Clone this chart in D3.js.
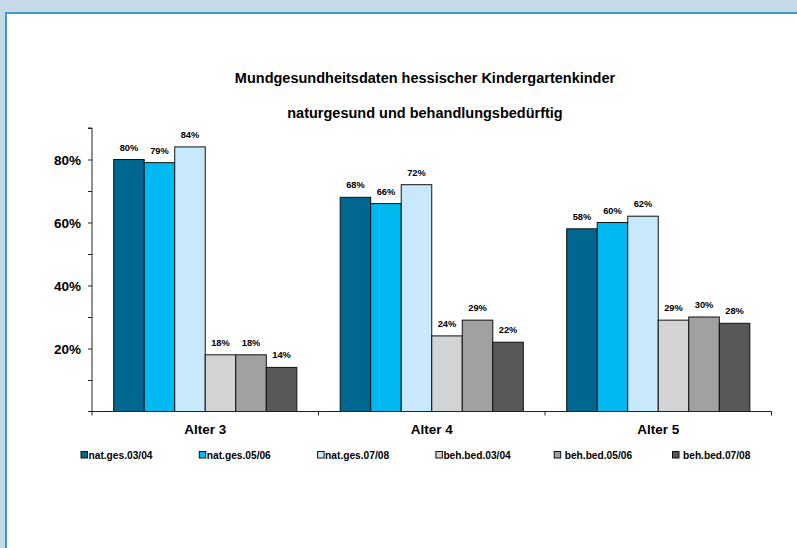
<!DOCTYPE html>
<html>
<head>
<meta charset="utf-8">
<script src="https://cdn.jsdelivr.net/npm/d3@7"></script>
<style>
  html, body { margin: 0; padding: 0; background: #c6d9e8; }
  svg { display: block; }
  text { font-family: "Liberation Sans", Arial, sans-serif; font-weight: bold; fill: #000; }
</style>
</head>
<body>
<svg id="chart" width="797" height="548"></svg>
<script>
// Age groups on the x axis
const categories = ["Alter 3", "Alter 4", "Alter 5"];

// Series: share of naturally healthy teeth (nat.ges) and share needing treatment (beh.bed) per school year
const seriesNames = ["nat.ges.03/04", "nat.ges.05/06", "nat.ges.07/08", "beh.bed.03/04", "beh.bed.05/06", "beh.bed.07/08"];
const natges0304 = [80, 68, 58];
const natges0506 = [79, 66, 60];
const natges0708 = [84, 72, 62];
const behbed0304 = [18, 24, 29];
const behbed0506 = [18, 29, 30];
const behbed0708 = [14, 22, 28];
const seriesColors = ["#006890", "#00b9f1", "#c8e9f9", "#d2d3d5", "#a1a1a3", "#58585a"];

// Y axis ticks (percent)
const yTicks = [10, 20, 30, 40, 50, 60, 70, 80, 90];
const yLabelTicks = [20, 40, 60, 80];

const seriesValues = [natges0304, natges0506, natges0708, behbed0304, behbed0506, behbed0708];
const rows = categories.map((c, i) => ({
  category: c,
  values: seriesNames.map((s, j) => ({ series: s, value: seriesValues[j][i], color: seriesColors[j] }))
}));

const svg = d3.select("#chart");

// White chart panel with blue frame
svg.append("rect").attr("x", 6).attr("y", 13).attr("width", 820).attr("height", 560)
  .attr("fill", "#ffffff").attr("stroke", "#3d9cc9").attr("stroke-width", 2);

const plotLeft = 92, plotRight = 771.5, plotTop = 128, plotBottom = 411.5;

const y = d3.scaleLinear().domain([0, 90]).range([plotBottom, plotTop]);
const x0 = d3.scaleBand().domain(categories).range([plotLeft, plotRight]).padding(0);
const x1 = d3.scaleBand().domain(seriesNames).range([0, x0.bandwidth()]).paddingInner(0).paddingOuter(0.71);

// Title
const title = svg.append("g");
title.append("text").attr("x", 425).attr("y", 83).attr("text-anchor", "middle")
  .style("font-size", "14.5px").text("Mundgesundheitsdaten hessischer Kindergartenkinder");
title.append("text").attr("x", 425).attr("y", 118).attr("text-anchor", "middle")
  .style("font-size", "14.5px").text("naturgesund und behandlungsbedürftig");

// Bars
const groups = svg.append("g").selectAll("g").data(rows).join("g")
  .attr("transform", d => `translate(${x0(d.category)},0)`);

groups.selectAll("rect").data(d => d.values).join("rect")
  .attr("x", d => x1(d.series))
  .attr("y", d => y(d.value))
  .attr("width", x1.bandwidth())
  .attr("height", d => y(0) - y(d.value))
  .attr("fill", d => d.color)
  .attr("stroke", "#111")
  .attr("stroke-width", 1);

// Value labels
groups.selectAll("text").data(d => d.values).join("text")
  .attr("x", d => x1(d.series) + x1.bandwidth() / 2)
  .attr("y", d => y(d.value) - 9)
  .attr("text-anchor", "middle")
  .style("font-size", "9.3px")
  .text(d => d.value + "%");

// Y axis
const yAxis = d3.axisLeft(y).tickValues(yTicks).tickSize(4).tickFormat("");
const yg = svg.append("g").attr("transform", `translate(${plotLeft},0)`).call(yAxis);
yg.select(".domain").attr("stroke", "#222").attr("d", `M-4,${plotTop}H0V${plotBottom}`);
yg.selectAll(".tick line").attr("stroke", "#222");

svg.append("g").selectAll("text").data(yLabelTicks).join("text")
  .attr("x", 81).attr("y", d => y(d) + 5)
  .attr("text-anchor", "end")
  .style("font-size", "13.5px")
  .text(d => d + "%");

// X axis with tick marks at the group boundaries
const xg = svg.append("g").attr("transform", `translate(0,${plotBottom})`);
xg.append("line").attr("x1", plotLeft - 4).attr("x2", plotRight).attr("y1", 0).attr("y2", 0).attr("stroke", "#222");
const boundaries = categories.map(c => x0(c)).concat([plotRight]);
xg.selectAll("line.tk").data(boundaries).join("line").attr("class", "tk")
  .attr("x1", d => d).attr("x2", d => d).attr("y1", 0).attr("y2", 4).attr("stroke", "#222");
xg.selectAll("text").data(categories).join("text")
  .attr("x", d => x0(d) + x0.bandwidth() / 2)
  .attr("y", 22)
  .attr("text-anchor", "middle")
  .style("font-size", "13.5px")
  .text(d => d);

// Legend
const legendX = d3.scalePoint().domain(seriesNames).range([81, 672.5]);
const legend = svg.append("g").selectAll("g").data(seriesNames.map((s, i) => ({ s, c: seriesColors[i] }))).join("g")
  .attr("transform", d => `translate(${legendX(d.s)},455)`);
legend.append("rect").attr("x", 0).attr("y", -3.5).attr("width", 6.5).attr("height", 6.5)
  .attr("fill", d => d.c).attr("stroke", "#111").attr("stroke-width", 1);
legend.append("text").attr("x", (d, i) => i >= 4 ? 10.5 : 7.5).attr("y", 3.6)
  .style("font-size", "10.2px")
  .text(d => d.s);
</script>
</body>
</html>
